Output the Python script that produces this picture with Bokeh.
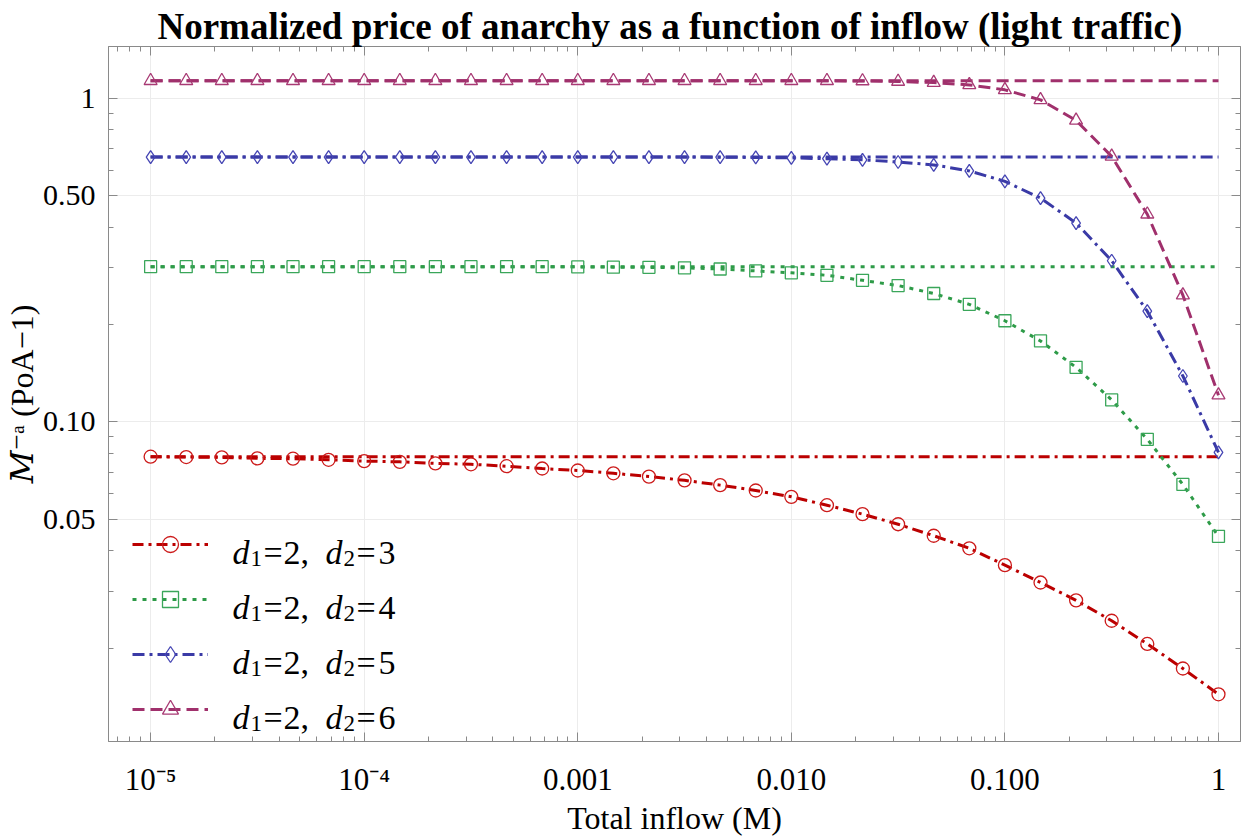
from bokeh.plotting import figure
from bokeh.models import FixedTicker, LogAxis, Legend, LegendItem, Label
from bokeh.embed import file_html
from bokeh.resources import INLINE

# Total inflow M (six samples per decade, 1e-5 .. 1)
inflow = [1.000e-5, 1.468e-5, 2.154e-5, 3.162e-5, 4.642e-5, 6.813e-5,
          1.000e-4, 1.468e-4, 2.154e-4, 3.162e-4, 4.642e-4, 6.813e-4,
          1.000e-3, 1.468e-3, 2.154e-3, 3.162e-3, 4.642e-3, 6.813e-3,
          1.000e-2, 1.468e-2, 2.154e-2, 3.162e-2, 4.642e-2, 6.813e-2,
          1.000e-1, 1.468e-1, 2.154e-1, 3.162e-1, 4.642e-1, 6.813e-1,
          1.000]

# Normalized PoA  M^-a (PoA - 1) for d1 = 2 and d2 = 3..6
poa_d3 = [0.0781, 0.0779, 0.0777, 0.0772, 0.0770, 0.0764, 0.0757, 0.0753,
          0.0745, 0.0740, 0.0730, 0.0718, 0.0708, 0.0694, 0.0678, 0.0660,
          0.0638, 0.0614, 0.0587, 0.0553, 0.0519, 0.0483, 0.0445, 0.0407,
          0.0361, 0.0319, 0.0281, 0.0243, 0.0206, 0.0173, 0.0144]
poa_d4 = [0.302, 0.302, 0.302, 0.302, 0.302, 0.302, 0.302, 0.302,
          0.302, 0.302, 0.302, 0.302, 0.3015, 0.301, 0.3005, 0.2995,
          0.297, 0.293, 0.289, 0.284, 0.274, 0.264, 0.2495, 0.231,
          0.2055, 0.178, 0.1475, 0.117, 0.0884, 0.0641, 0.0443]
poa_d5 = [0.659, 0.659, 0.659, 0.659, 0.659, 0.659, 0.659, 0.659,
          0.659, 0.659, 0.659, 0.659, 0.659, 0.659, 0.659, 0.659,
          0.658, 0.657, 0.655, 0.651, 0.646, 0.636, 0.623, 0.597,
          0.554, 0.492, 0.412, 0.315, 0.220, 0.1387, 0.0806]
poa_d6 = [1.134, 1.134, 1.134, 1.134, 1.134, 1.134, 1.134, 1.134,
          1.134, 1.134, 1.134, 1.134, 1.134, 1.134, 1.134, 1.134,
          1.134, 1.134, 1.134, 1.134, 1.132, 1.128, 1.119, 1.101,
          1.063, 0.990, 0.855, 0.662, 0.4385, 0.2466, 0.121]

# Light-traffic limits (horizontal reference lines)
limit_d3 = 0.0781
limit_d4 = 0.302
limit_d5 = 0.659
limit_d6 = 1.134
limit_span = [1e-5, 1.0]

d1_values = ["2", "2", "2", "2"]
d2_values = ["3", "4", "5", "6"]

x_major = [1e-5, 1e-4, 1e-3, 1e-2, 1e-1, 1.0]
x_labels = ["10⁻⁵", "10⁻⁴", "0.001", "0.010", "0.100", "1"]
y_major = [0.05, 0.1, 0.5, 1.0]
y_labels = ["0.05", "0.10", "0.50", "1"]

x_minor = [m * 10.0 ** e for e in range(-6, 1) for m in range(2, 10)]
y_minor = [m * 10.0 ** e for e in (-2, -1) for m in range(2, 10)
           if abs(m * 10.0 ** e - 0.05) > 1e-9 and abs(m * 10.0 ** e - 0.5) > 1e-9]

SERIF = "Liberation Serif"
SERIF_MATH = "'Liberation Serif', 'DejaVu Serif', serif"
FRAME = "#8a8a8a"

# frame placement on the canvas (left, top, right, bottom)
FL, FT, FR, FB = 108, 46, 1240, 742

p = figure(width=1250, height=838, x_axis_type="log", y_axis_type="log",
           x_range=(6.35e-6, 1.268), y_range=(0.01029, 1.447),
           output_backend="svg", toolbar_location=None,
           min_border_left=FL, min_border_right=1250 - FR,
           min_border_top=FT, min_border_bottom=838 - FB,
           background_fill_color="white", border_fill_color="white",
           outline_line_color=FRAME)

p.title.text = "Normalized price of anarchy as a function of inflow  (light traffic)"
p.title.text_font = SERIF
p.title.text_font_size = "37px"
p.title.text_font_style = "bold"
p.title.text_color = "black"
p.title.align = "center"
p.title.standoff = 0
p.title.offset = -4


def style_axis(ax, ticks, minor, labels, show_labels):
    ax.ticker = FixedTicker(ticks=ticks, minor_ticks=minor)
    ax.axis_line_color = FRAME
    ax.major_tick_line_color = FRAME
    ax.minor_tick_line_color = FRAME
    ax.major_tick_in = 9
    ax.major_tick_out = 0
    ax.minor_tick_in = 5
    ax.minor_tick_out = 0
    if show_labels:
        ax.major_label_overrides = {t: s for t, s in zip(ticks, labels)}
        ax.major_label_text_font = SERIF
        ax.major_label_text_font_size = "30px"
        ax.major_label_text_color = "black"
    else:
        ax.major_label_overrides = {t: "" for t in ticks}
        ax.major_label_text_font_size = "0px"
        ax.major_label_standoff = 0


xa = p.xaxis[0]
ya = p.yaxis[0]
style_axis(xa, x_major, x_minor, x_labels, True)
style_axis(ya, y_major, y_minor, y_labels, True)
xa.major_label_text_font_size = "31px"
xa.major_label_standoff = 20
ya.major_label_standoff = 13
xa.axis_label = "Total inflow (M)"
ya.axis_label = "𝑀⁻ᵃ (PoA−1)"
for ax in (xa, ya):
    ax.axis_label_text_font = SERIF_MATH
    ax.axis_label_text_font_size = "32px"
    ax.axis_label_text_font_style = "normal"
    ax.axis_label_text_color = "black"
    ax.axis_label_standoff = 0

top = LogAxis()
right = LogAxis()
style_axis(top, x_major, x_minor, x_labels, False)
style_axis(right, y_major, y_minor, y_labels, False)
p.add_layout(top, "above")
p.add_layout(right, "right")

p.xgrid.ticker = FixedTicker(ticks=x_major)
p.ygrid.ticker = FixedTicker(ticks=y_major)
p.xgrid.grid_line_color = "#ececec"
p.ygrid.grid_line_color = "#ececec"


def text_at(x, y, s, size, style="normal"):
    """Place a text run with its baseline start at canvas pixel (x, y)."""
    p.add_layout(Label(x=x - FL, y=FB - y, x_units="screen", y_units="screen",
                       text=s, text_font=SERIF, text_font_size=f"{size}px",
                       text_font_style=style, text_color="black",
                       text_align="left", text_baseline="alphabetic"))


styles = [
    (poa_d3, limit_d3, "#bb0000", "#cc1a1a", "11 5 3 5", "circle", 13),
    (poa_d4, limit_d4, "#2e9b48", "#3aa65a", "4 6", "square", 12),
    (poa_d5, limit_d5, "#3a3aa6", "#4646b4", "12 5 3 5", "diamond", 13),
    (poa_d6, limit_d6, "#a0306c", "#a83a74", "12 6", "triangle", 13),
]

items = []
for vals, lim, lc, mc, dash, marker, msize in styles:
    p.line(limit_span, [lim, lim], line_color=lc, line_width=3, line_dash=dash)
    r_line = p.line(inflow, vals, line_color=lc, line_width=3, line_dash=dash)
    r_pts = p.scatter(inflow, vals, marker=marker, size=msize,
                      line_color=mc, line_width=1.3, fill_color=None)
    items.append(LegendItem(label=" ", renderers=[r_line, r_pts]))

legend = Legend(items=items, location=(24, 12), glyph_width=76, glyph_height=40,
                label_standoff=0, spacing=15, padding=0, margin=0,
                border_line_color=None, background_fill_alpha=0,
                label_text_font=SERIF, label_text_font_size="30px",
                label_width=0)
p.add_layout(legend)

# legend texts  d1=.., d2=..  (italic d, subscript index)
for row, (v1, v2) in enumerate(zip(d1_values, d2_values)):
    base = 553 + 55 * row
    text_at(232, base, "d", 34, style="italic")
    text_at(250, base + 6, "1", 23)
    text_at(263, base, "=", 34)
    text_at(283, base, v1 + ",", 34)
    text_at(325, base, "d", 34, style="italic")
    text_at(343, base + 6, "2", 23)
    text_at(356, base, "=", 34)
    text_at(378, base, v2, 34)

open("out.html", "w").write(file_html(p, INLINE))
